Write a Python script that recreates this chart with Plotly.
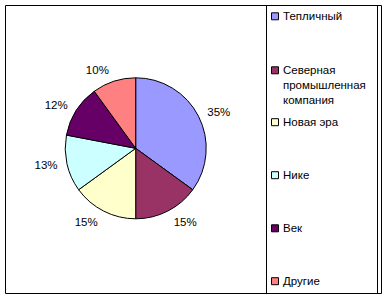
import plotly.graph_objects as go

labels = ["Тепличный", "Северная<br>промышленная<br>компания", "Новая эра", "Нике", "Век", "Другие"]
values = [35, 15, 15, 13, 12, 10]
colors = ["#9999FF", "#993366", "#FFFFCC", "#CCFFFF", "#660066", "#FF8080"]

W, H = 388, 299
FONT = "Arial, 'Liberation Sans', sans-serif"

cx, cy, r = 135.7, 148.3, 70.5
r_lab = 77.0  # radius of the invisible pie that carries the outside labels


def dom(rad):
    return dict(x=[(cx - rad) / W, (cx + rad) / W], y=[(H - cy - rad) / H, (H - cy + rad) / H])


fig = go.Figure()
# invisible pie carrying the percentage labels, slightly larger for label offset
fig.add_trace(go.Pie(
    labels=labels, values=values, sort=False, direction="clockwise", rotation=0,
    marker=dict(colors=["rgba(0,0,0,0)"] * len(values), line=dict(width=0)),
    textposition="outside", texttemplate="%{percent:.0%}",
    textfont=dict(family=FONT, size=11.5, color="black"),
    domain=dom(r_lab), showlegend=False, hoverinfo="skip",
))
# visible pie
fig.add_trace(go.Pie(
    labels=labels, values=values, sort=False, direction="clockwise", rotation=0,
    marker=dict(colors=colors, line=dict(color="black", width=1)),
    textinfo="none", domain=dom(r), showlegend=False, hoverinfo="label+percent",
))

shapes = [
    dict(type="rect", xref="paper", yref="paper", x0=5.5 / W, x1=381.5 / W,
         y0=1 - 5.5 / H, y1=1 - 293.5 / H, line=dict(color="black", width=1)),
    dict(type="rect", xref="paper", yref="paper", x0=266.5 / W, x1=377.5 / W,
         y0=1 - 5.5 / H, y1=1 - 293.5 / H, line=dict(color="black", width=1)),
]
annotations = []
legend_y = [16.3, 70.3, 122.2, 175.2, 228.3, 281.2]
for lab, col, ly in zip(labels, colors, legend_y):
    shapes.append(dict(type="rect", xref="paper", yref="paper",
                       x0=271.5 / W, x1=278.5 / W, y0=1 - (ly - 3.5) / H, y1=1 - (ly + 3.5) / H,
                       fillcolor=col, line=dict(color="black", width=1)))
    annotations.append(dict(x=281 / W, y=1 - (ly - 8) / H, xref="paper", yref="paper",
                            xanchor="left", yanchor="top", align="left", showarrow=False,
                            text=lab, font=dict(family=FONT, size=11.5, color="black")))

fig.update_layout(
    width=W, height=H, margin=dict(l=0, r=0, t=0, b=0),
    paper_bgcolor="white", plot_bgcolor="white",
    shapes=shapes, annotations=annotations,
)
fig.write_html("out.html")
